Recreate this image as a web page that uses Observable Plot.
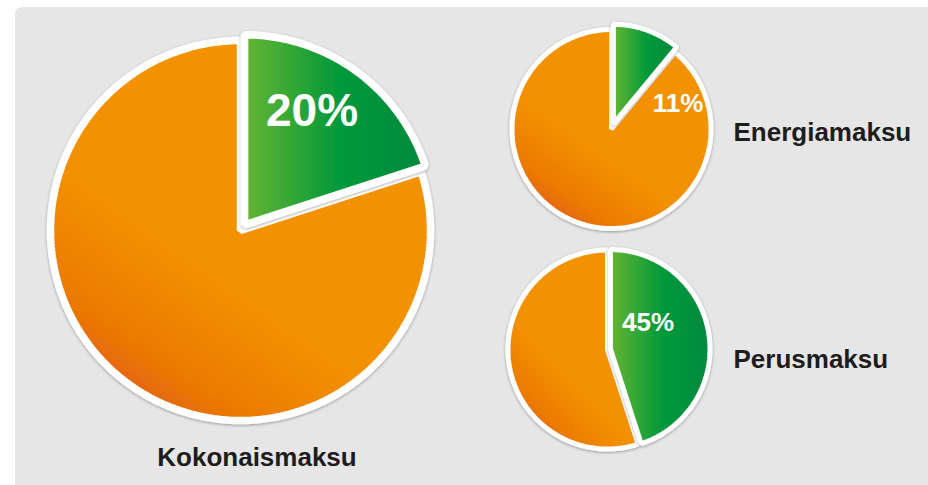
<!DOCTYPE html>
<html><head><meta charset="utf-8">
<script src="https://cdn.jsdelivr.net/npm/d3@7"></script>
<script src="https://cdn.jsdelivr.net/npm/@observablehq/plot@0.6"></script>
<style>
html,body{margin:0;padding:0;background:#fff;}
#wrap{position:relative;width:928px;height:485px;overflow:hidden;}
#panel{position:absolute;left:15px;top:7px;right:0;bottom:0;background:#e6e6e6;border-top-left-radius:7px;}
#chart{position:absolute;left:0;top:0;}
</style></head><body>
<div id="wrap"><div id="panel"></div><div id="chart"></div></div>
<script>
// ---- data ----
const pieNames = ["Kokonaismaksu", "Energiamaksu", "Perusmaksu"];
const greenShares = [20, 11, 45];
const shareLabels = ["20%", "11%", "45%"];

// ---- layout (pixel units of the linear x/y scales) ----
const layout = [
  {cx: 240, cy: 230, r: 190, explode: 7, sw: 7.5, nameX: 256.5, nameY: 465, anchor: "middle", pctX: 311.5, pctY: 125, pctSize: 46},
  {cx: 611, cy: 128.5, r: 99.5, explode: 5.5, sw: 5, nameX: 733, nameY: 140, anchor: "start", pctX: 677.5, pctY: 111, pctSize: 26},
  {cx: 607, cy: 349, r: 99.5, explode: 3, sw: 5, nameX: 733, nameY: 367, anchor: "start", pctX: 647.5, pctY: 330, pctSize: 26}
];

function slicePoints(i, p0, p1, off) {
  const L = layout[i];
  const a0 = p0 / 100 * 2 * Math.PI, a1 = p1 / 100 * 2 * Math.PI, am = (a0 + a1) / 2;
  const ox = off * Math.sin(am), oy = -off * Math.cos(am);
  const cx = L.cx + ox, cy = L.cy + oy;
  const pt = (a) => ({pie: pieNames[i], x: cx + L.r * Math.sin(a), y: cy - L.r * Math.cos(a)});
  const pts = [];
  const n1 = Math.max(2, Math.ceil((a1 - am) * 180 / Math.PI));
  for (let k = 0; k <= n1; ++k) pts.push(pt(am + (a1 - am) * k / n1));
  pts.push({pie: pieNames[i], x: cx, y: cy});
  const n0 = Math.max(2, Math.ceil((am - a0) * 180 / Math.PI));
  for (let k = 0; k <= n0; ++k) pts.push(pt(a0 + (am - a0) * k / n0));
  return pts;
}

const font = "'Liberation Sans', Arial, Helvetica, sans-serif";
const marks = [];
pieNames.forEach((name, i) => {
  const L = layout[i];
  marks.push(Plot.line(slicePoints(i, greenShares[i], 100, 0), {
    x: "x", y: "y", fill: "url(#gOrange)", stroke: "white", strokeWidth: L.sw,
    strokeLinejoin: "miter", strokeLinecap: "round", curve: "linear"
  }));
  marks.push(Plot.line(slicePoints(i, 0, greenShares[i], L.explode), {
    x: "x", y: "y", fill: "url(#gGreen)", stroke: "white", strokeWidth: L.sw,
    strokeLinejoin: "miter", strokeLinecap: "round", curve: "linear"
  }));
});
marks.push(Plot.text(pieNames, {
  x: (d, i) => layout[i].nameX, y: (d, i) => layout[i].nameY, text: d => d,
  textAnchor: "start", lineAnchor: "bottom", fontSize: 26, fontWeight: "bold", fill: "#1d1d1b", fontFamily: font
}));
marks.push(Plot.text(shareLabels, {
  x: (d, i) => layout[i].pctX, y: (d, i) => layout[i].pctY, text: d => d,
  textAnchor: "middle", lineAnchor: "bottom", fontSize: (d, i) => layout[i].pctSize,
  fontWeight: "bold", fill: "white", fontFamily: font
}));

const chart = Plot.plot({
  width: 928, height: 485, margin: 0,
  style: {background: "transparent", overflow: "visible"},
  x: {type: "linear", domain: [0, 928], range: [0, 928], axis: null},
  y: {type: "linear", domain: [0, 485], range: [0, 485], axis: null},
  marks
});

// per-name anchor: Kokonaismaksu is centred below its pie
d3.select(chart).selectAll('g[aria-label="text"]').each(function(_, gi) {
  if (gi === 0) d3.select(this).selectAll("text").attr("text-anchor", (d, j) => layout[j].anchor);
});

const svg = d3.select(chart);
const defs = svg.insert("defs", ":first-child");
const go = defs.append("linearGradient").attr("id", "gOrange")
  .attr("x1", 0.55).attr("y1", 0.5).attr("x2", 0.2).attr("y2", 1.0);
go.append("stop").attr("offset", 0).attr("stop-color", "#f39200");
go.append("stop").attr("offset", 0.3).attr("stop-color", "#f29000");
go.append("stop").attr("offset", 0.7).attr("stop-color", "#eb7a05");
go.append("stop").attr("offset", 1).attr("stop-color", "#e0580c");
const gg = defs.append("linearGradient").attr("id", "gGreen")
  .attr("x1", 0).attr("y1", 0).attr("x2", 1).attr("y2", 0);
gg.append("stop").attr("offset", 0).attr("stop-color", "#66b532");
gg.append("stop").attr("offset", 0.5).attr("stop-color", "#069a3a");
gg.append("stop").attr("offset", 1).attr("stop-color", "#00893f");
const f = defs.append("filter").attr("id", "shadow").attr("x", "-10%").attr("y", "-10%").attr("width", "120%").attr("height", "120%");
f.append("feDropShadow").attr("dx", 0).attr("dy", 1).attr("stdDeviation", 1.6)
  .attr("flood-color", "#000").attr("flood-opacity", 0.35);
svg.selectAll('g[aria-label="line"]').attr("filter", "url(#shadow)");

document.getElementById("chart").appendChild(chart);
</script>
</body></html>
